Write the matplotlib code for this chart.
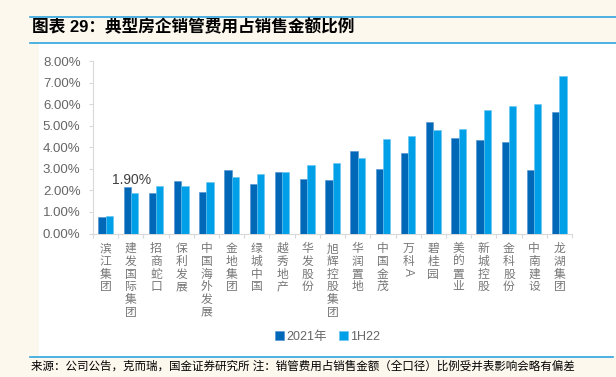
import numpy as np
import matplotlib
matplotlib.use("Agg")
import matplotlib.pyplot as plt
from matplotlib.patches import Rectangle
from matplotlib.lines import Line2D

plt.rcParams['font.family'] = ['Liberation Sans', 'Noto Sans CJK SC', 'DejaVu Sans']

companies = ['滨江集团', '建发国际集团', '招商蛇口', '保利发展', '中国海外发展', '金地集团',
             '绿城中国', '越秀地产', '华发股份', '旭辉控股集团', '华润置地', '中国金茂',
             '万科A', '碧桂园', '美的置业', '新城控股', '金科股份', '中南建设', '龙湖集团']
ratio_2021 = [0.77, 2.16, 1.88, 2.44, 1.93, 2.93, 2.31, 2.83, 2.55, 2.50,
              3.84, 3.01, 3.72, 5.18, 4.44, 4.33, 4.23, 2.95, 5.63]
ratio_1h22 = [0.81, 1.90, 2.22, 2.22, 2.38, 2.61, 2.78, 2.83, 3.17, 3.27,
              3.50, 4.40, 4.50, 4.78, 4.84, 5.74, 5.91, 6.02, 7.31]
series_names = ['2021年', '1H22']
y_ticks = [0, 1, 2, 3, 4, 5, 6, 7, 8]

dark_blue = '#0068b7'
light_blue = '#00a0e9'
grey = '#666666'
label_grey = '#777777'

fig = plt.figure(figsize=(6.16, 3.77), dpi=100)
fig.patch.set_facecolor('#fdf8ee')

# white panel behind the chart
fig.add_artist(Rectangle((39 / 616, 1 - 356 / 377), 1 - 39 / 616, (356 - 43) / 377,
                         transform=fig.transFigure, facecolor='white',
                         edgecolor='none', zorder=-5))

# title with blue rules
line_col = '#2fa4e0'
fig.add_artist(Line2D([30 / 616, 1], [1 - 17 / 377] * 2, color=line_col, lw=1.2))
fig.add_artist(Line2D([30 / 616, 1], [1 - 43 / 377] * 2, color=line_col, lw=1.2))
fig.text(32 / 616, 1 - 27 / 377, '图表 29：典型房企销管费用占销售金额比例',
         fontsize=12, fontweight='bold', color='black', va='center', ha='left')

# footer
fig.add_artist(Line2D([30 / 616, 613 / 616], [1 - 357 / 377] * 2, color=line_col, lw=1.2))
fig.text(31 / 616, 1 - 367 / 377,
         '来源：公司公告，克而瑞，国金证券研究所 注：销管费用占销售金额（全口径）比例受并表影响会略有偏差',
         fontsize=8.3, color='black', va='center', ha='left')

ax = fig.add_axes([93 / 616, 1 - 233.5 / 377, (572 - 93) / 616, (233.5 - 61) / 377])
ax.set_facecolor('none')

x = np.arange(len(companies))
w = 0.29
ax.bar(x - w / 2, ratio_2021, w, color=dark_blue, edgecolor='#4d8fd0', linewidth=0.4,
       label=series_names[0], zorder=3)
ax.bar(x + w / 2, ratio_1h22, w, color=light_blue, edgecolor='#66c4f0', linewidth=0.4,
       label=series_names[1], zorder=3)

ax.text(x[1] + w / 2 - 0.1, ratio_1h22[1] + 0.25, '1.90%', ha='center', va='bottom',
        fontsize=10, color='#404040')

ax.set_xlim(-0.5, len(companies) - 0.5)
ax.set_ylim(0, 8)
ax.set_yticks(y_ticks)
ax.set_yticklabels([f'{v:.2f}%' for v in y_ticks], fontsize=9.5, color=grey)

for s in ['top', 'right']:
    ax.spines[s].set_visible(False)
ax.spines['left'].set_color('#d9d9d9')
ax.spines['bottom'].set_color('#d9d9d9')
ax.tick_params(axis='y', length=3, color='#d9d9d9', pad=6)

# category boundary ticks on x axis
ax.set_xticks(np.arange(len(companies) + 1) - 0.5, minor=False)
ax.set_xticklabels([])
ax.tick_params(axis='x', length=3, color='#d9d9d9')

for i, name in enumerate(companies):
    if name == '万科A':
        ax.text(i, -0.45, '万\n科', ha='center', va='top',
                fontsize=8.5, color=label_grey, linespacing=1.08)
        ax.text(i, -1.78, 'A', ha='center', va='center', fontsize=8.5,
                color=label_grey, rotation=-90)
    else:
        ax.text(i, -0.45, '\n'.join(name), ha='center', va='top', fontsize=8.5,
                color=label_grey, linespacing=1.08)

ax.legend(loc='center', bbox_to_anchor=(0.49, -0.6), ncol=2, frameon=False,
          fontsize=9, handlelength=0.7, handleheight=0.7, handletextpad=0.2,
          columnspacing=1.0, labelcolor=grey)

fig.savefig('out.png', dpi=100, facecolor=fig.get_facecolor())
